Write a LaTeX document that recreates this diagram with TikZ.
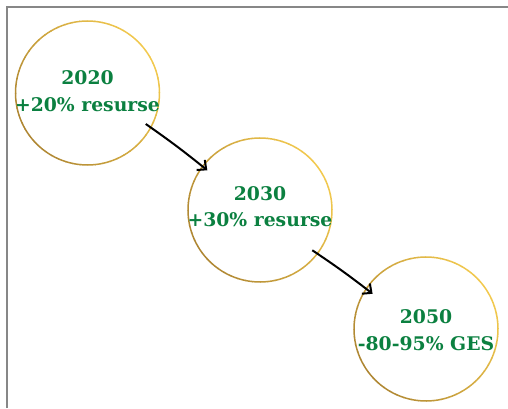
\documentclass[tikz,border=0pt]{standalone}
\usepackage{fontspec}
\setmainfont{DejaVu Serif}
\usetikzlibrary{arrows.meta,calc}
\definecolor{golddark}{HTML}{AE8632}
\definecolor{goldlight}{HTML}{F2C94E}
\definecolor{leafgreen}{HTML}{0B8040}
\definecolor{framegray}{HTML}{878787}

\tikzset{
  ring/.style={circle, minimum size=144pt, inner sep=0pt, draw=none},
  stage/.style={text=leafgreen, align=center, font=\fontsize{18.8}{26.5}\selectfont\bfseries},
  flow/.style={black, line width=2pt, -{Straight Barb[length=7pt,width=13pt]}},
}

\begin{document}
\begin{tikzpicture}[x=1pt,y=1pt]
\useasboundingbox (0,0) rectangle (508,408);

% frame along the top and left edges
\draw[framegray, line width=2.4pt] (7,0) -- (7,401) -- (508,401);

% the three milestones
\node[ring] (c1) at (87.5,315) {};
\node[ring] (c2) at (260,198) {};
\node[ring] (c3) at (426,79) {};

% gold rims, darker towards the lower left
\foreach \c in {c1,c2,c3}{
  \foreach \a in {0,6,...,354}{
    \pgfmathsetmacro\p{50+50*cos(\a-30)}
    \draw[goldlight!\p!golddark, line width=1.5pt]
      ($(\c.center)+(\a:72pt)$) arc[start angle=\a, end angle=\a+6.5, radius=72pt];
  }
}

\node[stage] (t1) at (87.5,317) {2020\\+20\% resurse};
\node[stage] (t2) at (260,201.5) {2030\\+30\% resurse};
\node[stage] (t3) at (426,78) {2050\\-80-95\% GES};

% arrows between milestones
\coordinate (a1s) at ($(c1.center)+(-28:66pt)$);
\coordinate (a1e) at ($(c2.center)+(143:66pt)$);
\coordinate (a2s) at ($(c2.center)+(-37.6:66pt)$);
\coordinate (a2e) at ($(c3.center)+(146.6:64pt)$);
\draw[flow] (a1s) to[bend left=2] (a1e);
\draw[flow] (a2s) to[bend left=2] (a2e);
\end{tikzpicture}
\end{document}
